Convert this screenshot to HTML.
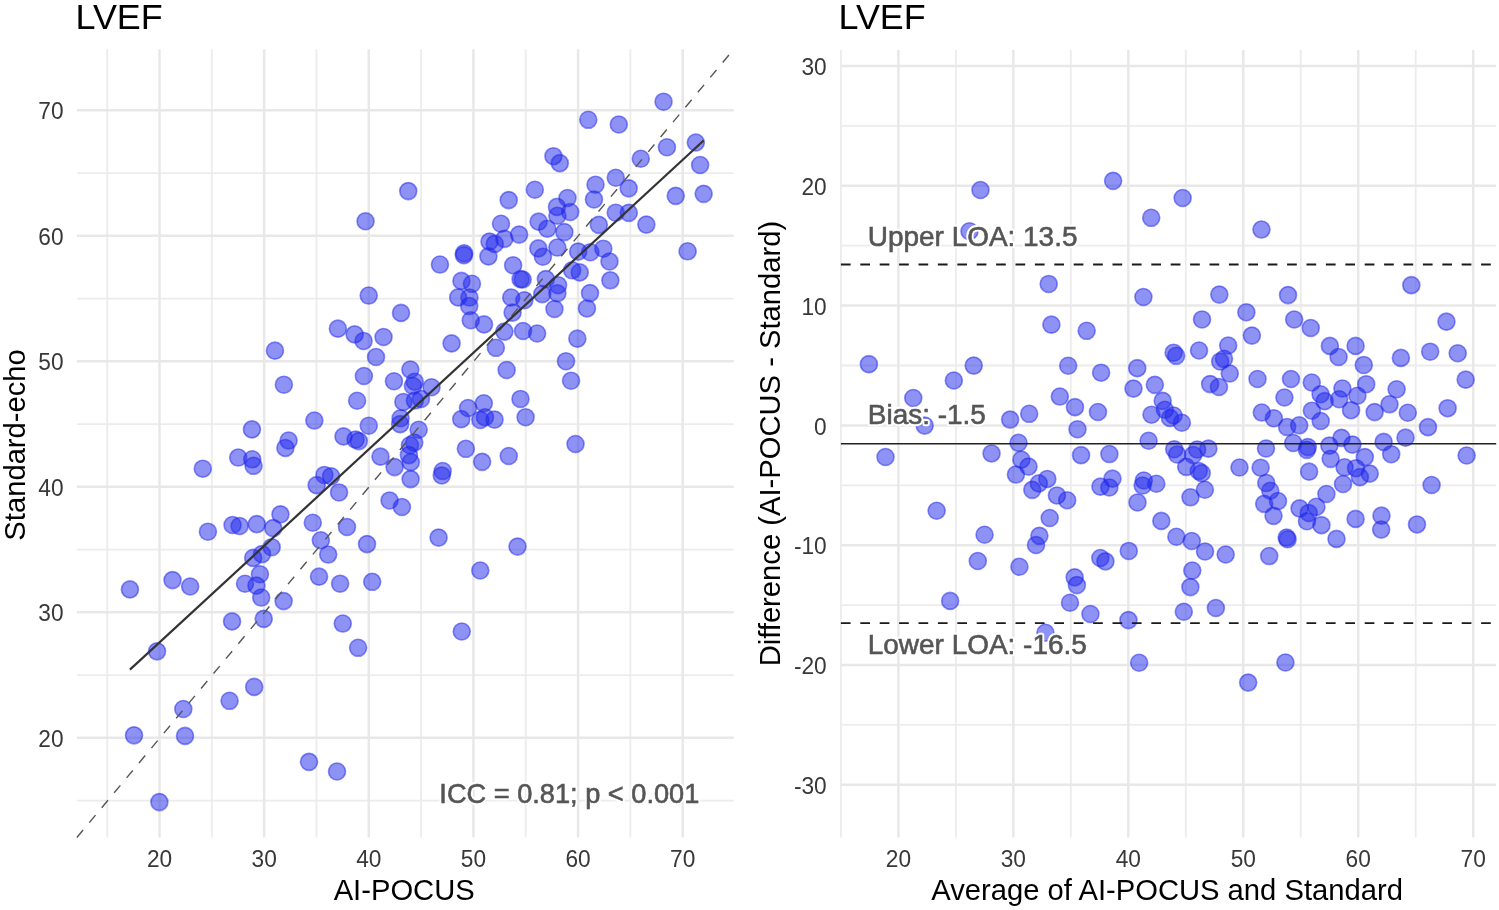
<!DOCTYPE html><html><head><meta charset="utf-8"><style>html,body{margin:0;padding:0;background:#fff;overflow:hidden}svg{display:block;will-change:transform;filter:blur(0.3px)}</style></head><body><svg width="1499" height="910" viewBox="0 0 1499 910" font-family="&quot;Liberation Sans&quot;, sans-serif">
<rect width="1499" height="910" fill="#fff"/>
<line x1="107.18" y1="49.3" x2="107.18" y2="837.5" stroke="#ECECEC" stroke-width="1.8"/>
<line x1="211.82" y1="49.3" x2="211.82" y2="837.5" stroke="#ECECEC" stroke-width="1.8"/>
<line x1="316.46" y1="49.3" x2="316.46" y2="837.5" stroke="#ECECEC" stroke-width="1.8"/>
<line x1="421.10" y1="49.3" x2="421.10" y2="837.5" stroke="#ECECEC" stroke-width="1.8"/>
<line x1="525.74" y1="49.3" x2="525.74" y2="837.5" stroke="#ECECEC" stroke-width="1.8"/>
<line x1="630.38" y1="49.3" x2="630.38" y2="837.5" stroke="#ECECEC" stroke-width="1.8"/>
<line x1="76.9" y1="800.55" x2="733.7" y2="800.55" stroke="#ECECEC" stroke-width="1.8"/>
<line x1="76.9" y1="675.05" x2="733.7" y2="675.05" stroke="#ECECEC" stroke-width="1.8"/>
<line x1="76.9" y1="549.55" x2="733.7" y2="549.55" stroke="#ECECEC" stroke-width="1.8"/>
<line x1="76.9" y1="424.05" x2="733.7" y2="424.05" stroke="#ECECEC" stroke-width="1.8"/>
<line x1="76.9" y1="298.55" x2="733.7" y2="298.55" stroke="#ECECEC" stroke-width="1.8"/>
<line x1="76.9" y1="173.05" x2="733.7" y2="173.05" stroke="#ECECEC" stroke-width="1.8"/>
<line x1="159.50" y1="49.3" x2="159.50" y2="837.5" stroke="#E8E8E8" stroke-width="2.5"/>
<line x1="264.14" y1="49.3" x2="264.14" y2="837.5" stroke="#E8E8E8" stroke-width="2.5"/>
<line x1="368.78" y1="49.3" x2="368.78" y2="837.5" stroke="#E8E8E8" stroke-width="2.5"/>
<line x1="473.42" y1="49.3" x2="473.42" y2="837.5" stroke="#E8E8E8" stroke-width="2.5"/>
<line x1="578.06" y1="49.3" x2="578.06" y2="837.5" stroke="#E8E8E8" stroke-width="2.5"/>
<line x1="682.70" y1="49.3" x2="682.70" y2="837.5" stroke="#E8E8E8" stroke-width="2.5"/>
<line x1="76.9" y1="737.80" x2="733.7" y2="737.80" stroke="#E8E8E8" stroke-width="2.5"/>
<line x1="76.9" y1="612.30" x2="733.7" y2="612.30" stroke="#E8E8E8" stroke-width="2.5"/>
<line x1="76.9" y1="486.80" x2="733.7" y2="486.80" stroke="#E8E8E8" stroke-width="2.5"/>
<line x1="76.9" y1="361.30" x2="733.7" y2="361.30" stroke="#E8E8E8" stroke-width="2.5"/>
<line x1="76.9" y1="235.80" x2="733.7" y2="235.80" stroke="#E8E8E8" stroke-width="2.5"/>
<line x1="76.9" y1="110.30" x2="733.7" y2="110.30" stroke="#E8E8E8" stroke-width="2.5"/>
<line x1="840.92" y1="50.1" x2="840.92" y2="837.5" stroke="#ECECEC" stroke-width="1.8"/>
<line x1="955.88" y1="50.1" x2="955.88" y2="837.5" stroke="#ECECEC" stroke-width="1.8"/>
<line x1="1070.84" y1="50.1" x2="1070.84" y2="837.5" stroke="#ECECEC" stroke-width="1.8"/>
<line x1="1185.80" y1="50.1" x2="1185.80" y2="837.5" stroke="#ECECEC" stroke-width="1.8"/>
<line x1="1300.76" y1="50.1" x2="1300.76" y2="837.5" stroke="#ECECEC" stroke-width="1.8"/>
<line x1="1415.72" y1="50.1" x2="1415.72" y2="837.5" stroke="#ECECEC" stroke-width="1.8"/>
<line x1="840.9" y1="724.90" x2="1496.2" y2="724.90" stroke="#ECECEC" stroke-width="1.8"/>
<line x1="840.9" y1="605.10" x2="1496.2" y2="605.10" stroke="#ECECEC" stroke-width="1.8"/>
<line x1="840.9" y1="485.30" x2="1496.2" y2="485.30" stroke="#ECECEC" stroke-width="1.8"/>
<line x1="840.9" y1="365.50" x2="1496.2" y2="365.50" stroke="#ECECEC" stroke-width="1.8"/>
<line x1="840.9" y1="245.70" x2="1496.2" y2="245.70" stroke="#ECECEC" stroke-width="1.8"/>
<line x1="840.9" y1="125.90" x2="1496.2" y2="125.90" stroke="#ECECEC" stroke-width="1.8"/>
<line x1="898.40" y1="50.1" x2="898.40" y2="837.5" stroke="#E8E8E8" stroke-width="2.5"/>
<line x1="1013.36" y1="50.1" x2="1013.36" y2="837.5" stroke="#E8E8E8" stroke-width="2.5"/>
<line x1="1128.32" y1="50.1" x2="1128.32" y2="837.5" stroke="#E8E8E8" stroke-width="2.5"/>
<line x1="1243.28" y1="50.1" x2="1243.28" y2="837.5" stroke="#E8E8E8" stroke-width="2.5"/>
<line x1="1358.24" y1="50.1" x2="1358.24" y2="837.5" stroke="#E8E8E8" stroke-width="2.5"/>
<line x1="1473.20" y1="50.1" x2="1473.20" y2="837.5" stroke="#E8E8E8" stroke-width="2.5"/>
<line x1="840.9" y1="784.80" x2="1496.2" y2="784.80" stroke="#E8E8E8" stroke-width="2.5"/>
<line x1="840.9" y1="665.00" x2="1496.2" y2="665.00" stroke="#E8E8E8" stroke-width="2.5"/>
<line x1="840.9" y1="545.20" x2="1496.2" y2="545.20" stroke="#E8E8E8" stroke-width="2.5"/>
<line x1="840.9" y1="425.40" x2="1496.2" y2="425.40" stroke="#E8E8E8" stroke-width="2.5"/>
<line x1="840.9" y1="305.60" x2="1496.2" y2="305.60" stroke="#E8E8E8" stroke-width="2.5"/>
<line x1="840.9" y1="185.80" x2="1496.2" y2="185.80" stroke="#E8E8E8" stroke-width="2.5"/>
<line x1="840.9" y1="66.00" x2="1496.2" y2="66.00" stroke="#E8E8E8" stroke-width="2.5"/>
<text transform="translate(159.50,867.30) scale(1,1.05)" text-anchor="middle" font-size="22.7" fill="#383838">20</text>
<text transform="translate(63.60,746.50) scale(1,1.05)" text-anchor="end" font-size="22.7" fill="#383838">20</text>
<text transform="translate(898.40,867.30) scale(1,1.05)" text-anchor="middle" font-size="22.7" fill="#383838">20</text>
<text transform="translate(264.14,867.30) scale(1,1.05)" text-anchor="middle" font-size="22.7" fill="#383838">30</text>
<text transform="translate(63.60,621.00) scale(1,1.05)" text-anchor="end" font-size="22.7" fill="#383838">30</text>
<text transform="translate(1013.36,867.30) scale(1,1.05)" text-anchor="middle" font-size="22.7" fill="#383838">30</text>
<text transform="translate(368.78,867.30) scale(1,1.05)" text-anchor="middle" font-size="22.7" fill="#383838">40</text>
<text transform="translate(63.60,495.50) scale(1,1.05)" text-anchor="end" font-size="22.7" fill="#383838">40</text>
<text transform="translate(1128.32,867.30) scale(1,1.05)" text-anchor="middle" font-size="22.7" fill="#383838">40</text>
<text transform="translate(473.42,867.30) scale(1,1.05)" text-anchor="middle" font-size="22.7" fill="#383838">50</text>
<text transform="translate(63.60,370.00) scale(1,1.05)" text-anchor="end" font-size="22.7" fill="#383838">50</text>
<text transform="translate(1243.28,867.30) scale(1,1.05)" text-anchor="middle" font-size="22.7" fill="#383838">50</text>
<text transform="translate(578.06,867.30) scale(1,1.05)" text-anchor="middle" font-size="22.7" fill="#383838">60</text>
<text transform="translate(63.60,244.50) scale(1,1.05)" text-anchor="end" font-size="22.7" fill="#383838">60</text>
<text transform="translate(1358.24,867.30) scale(1,1.05)" text-anchor="middle" font-size="22.7" fill="#383838">60</text>
<text transform="translate(682.70,867.30) scale(1,1.05)" text-anchor="middle" font-size="22.7" fill="#383838">70</text>
<text transform="translate(63.60,119.00) scale(1,1.05)" text-anchor="end" font-size="22.7" fill="#383838">70</text>
<text transform="translate(1473.20,867.30) scale(1,1.05)" text-anchor="middle" font-size="22.7" fill="#383838">70</text>
<text transform="translate(826.70,794.00) scale(1,1.05)" text-anchor="end" font-size="22.7" fill="#383838">-30</text>
<text transform="translate(826.70,674.20) scale(1,1.05)" text-anchor="end" font-size="22.7" fill="#383838">-20</text>
<text transform="translate(826.70,554.40) scale(1,1.05)" text-anchor="end" font-size="22.7" fill="#383838">-10</text>
<text transform="translate(826.70,434.60) scale(1,1.05)" text-anchor="end" font-size="22.7" fill="#383838">0</text>
<text transform="translate(826.70,314.80) scale(1,1.05)" text-anchor="end" font-size="22.7" fill="#383838">10</text>
<text transform="translate(826.70,195.00) scale(1,1.05)" text-anchor="end" font-size="22.7" fill="#383838">20</text>
<text transform="translate(826.70,75.20) scale(1,1.05)" text-anchor="end" font-size="22.7" fill="#383838">30</text>
<text x="75.6" y="29.3" font-size="35.9" fill="#000">LVEF</text>
<text x="838.6" y="29.3" font-size="35.9" fill="#000">LVEF</text>
<text x="404.2" y="899.7" text-anchor="middle" font-size="29.2" fill="#000">AI-POCUS</text>
<text x="1167.1" y="899.8" text-anchor="middle" font-size="29.2" fill="#000">Average of AI-POCUS and Standard</text>
<text transform="translate(25.4,444.9) rotate(-90)" text-anchor="middle" font-size="29.2" fill="#000">Standard-echo</text>
<text transform="translate(780.4,443.6) rotate(-90)" text-anchor="middle" font-size="29.2" fill="#000">Difference (AI-POCUS - Standard)</text>
<g fill="rgba(30,38,235,0.5)" stroke="rgba(30,38,235,0.5)" stroke-width="1.6">
<circle cx="663.56" cy="101.69" r="8.5"/>
<circle cx="588.28" cy="119.81" r="8.5"/>
<circle cx="618.79" cy="124.48" r="8.5"/>
<circle cx="695.83" cy="142.48" r="8.5"/>
<circle cx="666.94" cy="147.23" r="8.5"/>
<circle cx="640.78" cy="158.74" r="8.5"/>
<circle cx="553.43" cy="156.18" r="8.5"/>
<circle cx="559.8" cy="163.15" r="8.5"/>
<circle cx="700.11" cy="165.0" r="8.5"/>
<circle cx="615.76" cy="177.76" r="8.5"/>
<circle cx="595.51" cy="184.7" r="8.5"/>
<circle cx="628.7" cy="188.35" r="8.5"/>
<circle cx="534.83" cy="189.72" r="8.5"/>
<circle cx="675.73" cy="195.87" r="8.5"/>
<circle cx="703.66" cy="193.85" r="8.5"/>
<circle cx="508.71" cy="200.09" r="8.5"/>
<circle cx="593.97" cy="199.44" r="8.5"/>
<circle cx="567.47" cy="197.99" r="8.5"/>
<circle cx="556.95" cy="206.91" r="8.5"/>
<circle cx="570.21" cy="212.01" r="8.5"/>
<circle cx="557.38" cy="215.79" r="8.5"/>
<circle cx="615.74" cy="212.7" r="8.5"/>
<circle cx="628.79" cy="212.86" r="8.5"/>
<circle cx="501.0" cy="223.72" r="8.5"/>
<circle cx="538.62" cy="221.67" r="8.5"/>
<circle cx="598.81" cy="224.84" r="8.5"/>
<circle cx="646.36" cy="224.62" r="8.5"/>
<circle cx="547.32" cy="228.75" r="8.5"/>
<circle cx="564.38" cy="232.08" r="8.5"/>
<circle cx="519.1" cy="234.6" r="8.5"/>
<circle cx="504.41" cy="238.84" r="8.5"/>
<circle cx="489.5" cy="241.58" r="8.5"/>
<circle cx="494.76" cy="243.92" r="8.5"/>
<circle cx="538.33" cy="248.4" r="8.5"/>
<circle cx="557.36" cy="247.57" r="8.5"/>
<circle cx="464.07" cy="253.26" r="8.5"/>
<circle cx="488.41" cy="256.39" r="8.5"/>
<circle cx="578.17" cy="251.6" r="8.5"/>
<circle cx="590.3" cy="252.2" r="8.5"/>
<circle cx="603.31" cy="248.68" r="8.5"/>
<circle cx="687.62" cy="251.31" r="8.5"/>
<circle cx="542.93" cy="256.75" r="8.5"/>
<circle cx="408.26" cy="191.09" r="8.5"/>
<circle cx="365.54" cy="221.26" r="8.5"/>
<circle cx="463.92" cy="255.17" r="8.5"/>
<circle cx="439.96" cy="264.55" r="8.5"/>
<circle cx="609.48" cy="261.44" r="8.5"/>
<circle cx="513.13" cy="265.21" r="8.5"/>
<circle cx="461.44" cy="280.89" r="8.5"/>
<circle cx="471.95" cy="283.81" r="8.5"/>
<circle cx="458.18" cy="297.4" r="8.5"/>
<circle cx="469.44" cy="297.57" r="8.5"/>
<circle cx="469.2" cy="306.07" r="8.5"/>
<circle cx="470.74" cy="320.23" r="8.5"/>
<circle cx="484.01" cy="324.4" r="8.5"/>
<circle cx="520.58" cy="279.14" r="8.5"/>
<circle cx="522.66" cy="279.52" r="8.5"/>
<circle cx="511.24" cy="297.51" r="8.5"/>
<circle cx="524.36" cy="300.29" r="8.5"/>
<circle cx="512.59" cy="312.59" r="8.5"/>
<circle cx="545.85" cy="279.08" r="8.5"/>
<circle cx="558.07" cy="285.19" r="8.5"/>
<circle cx="542.28" cy="294.12" r="8.5"/>
<circle cx="557.4" cy="293.24" r="8.5"/>
<circle cx="554.46" cy="309.01" r="8.5"/>
<circle cx="572.15" cy="270.3" r="8.5"/>
<circle cx="579.72" cy="272.4" r="8.5"/>
<circle cx="610.36" cy="280.32" r="8.5"/>
<circle cx="590.01" cy="293.08" r="8.5"/>
<circle cx="586.95" cy="308.43" r="8.5"/>
<circle cx="504.39" cy="331.62" r="8.5"/>
<circle cx="523.05" cy="330.98" r="8.5"/>
<circle cx="537.12" cy="333.51" r="8.5"/>
<circle cx="451.59" cy="343.39" r="8.5"/>
<circle cx="495.9" cy="347.8" r="8.5"/>
<circle cx="577.35" cy="338.67" r="8.5"/>
<circle cx="566.01" cy="361.19" r="8.5"/>
<circle cx="506.63" cy="370.04" r="8.5"/>
<circle cx="571.07" cy="380.7" r="8.5"/>
<circle cx="368.71" cy="295.57" r="8.5"/>
<circle cx="401.03" cy="312.91" r="8.5"/>
<circle cx="337.88" cy="328.64" r="8.5"/>
<circle cx="354.64" cy="334.38" r="8.5"/>
<circle cx="363.59" cy="340.95" r="8.5"/>
<circle cx="383.55" cy="337.0" r="8.5"/>
<circle cx="274.95" cy="350.65" r="8.5"/>
<circle cx="376.03" cy="356.99" r="8.5"/>
<circle cx="363.87" cy="376.03" r="8.5"/>
<circle cx="393.96" cy="381.28" r="8.5"/>
<circle cx="410.35" cy="369.55" r="8.5"/>
<circle cx="412.96" cy="386.0" r="8.5"/>
<circle cx="414.72" cy="381.68" r="8.5"/>
<circle cx="431.5" cy="387.24" r="8.5"/>
<circle cx="283.86" cy="384.69" r="8.5"/>
<circle cx="357.12" cy="400.73" r="8.5"/>
<circle cx="403.33" cy="401.93" r="8.5"/>
<circle cx="414.89" cy="400.55" r="8.5"/>
<circle cx="420.94" cy="399.03" r="8.5"/>
<circle cx="400.56" cy="418.25" r="8.5"/>
<circle cx="400.17" cy="424.16" r="8.5"/>
<circle cx="368.75" cy="425.69" r="8.5"/>
<circle cx="418.65" cy="429.72" r="8.5"/>
<circle cx="314.36" cy="420.55" r="8.5"/>
<circle cx="520.47" cy="398.95" r="8.5"/>
<circle cx="468.04" cy="407.98" r="8.5"/>
<circle cx="483.79" cy="403.26" r="8.5"/>
<circle cx="461.26" cy="419.15" r="8.5"/>
<circle cx="480.33" cy="420.02" r="8.5"/>
<circle cx="484.97" cy="417.22" r="8.5"/>
<circle cx="494.55" cy="419.62" r="8.5"/>
<circle cx="525.61" cy="417.19" r="8.5"/>
<circle cx="575.51" cy="444.0" r="8.5"/>
<circle cx="465.87" cy="448.82" r="8.5"/>
<circle cx="482.14" cy="461.85" r="8.5"/>
<circle cx="508.74" cy="455.96" r="8.5"/>
<circle cx="442.69" cy="471.06" r="8.5"/>
<circle cx="441.76" cy="475.43" r="8.5"/>
<circle cx="438.59" cy="537.59" r="8.5"/>
<circle cx="517.55" cy="546.61" r="8.5"/>
<circle cx="251.94" cy="429.39" r="8.5"/>
<circle cx="288.58" cy="440.55" r="8.5"/>
<circle cx="285.4" cy="447.93" r="8.5"/>
<circle cx="238.22" cy="457.57" r="8.5"/>
<circle cx="252.23" cy="459.3" r="8.5"/>
<circle cx="253.55" cy="465.8" r="8.5"/>
<circle cx="202.79" cy="468.68" r="8.5"/>
<circle cx="343.5" cy="436.42" r="8.5"/>
<circle cx="355.56" cy="439.62" r="8.5"/>
<circle cx="358.8" cy="441.09" r="8.5"/>
<circle cx="380.52" cy="456.64" r="8.5"/>
<circle cx="414.28" cy="442.58" r="8.5"/>
<circle cx="409.95" cy="445.24" r="8.5"/>
<circle cx="408.87" cy="455.12" r="8.5"/>
<circle cx="410.78" cy="462.14" r="8.5"/>
<circle cx="410.62" cy="479.09" r="8.5"/>
<circle cx="394.57" cy="467.09" r="8.5"/>
<circle cx="324.39" cy="474.94" r="8.5"/>
<circle cx="331.09" cy="476.22" r="8.5"/>
<circle cx="316.67" cy="485.16" r="8.5"/>
<circle cx="339.05" cy="492.45" r="8.5"/>
<circle cx="389.55" cy="500.44" r="8.5"/>
<circle cx="401.91" cy="507.03" r="8.5"/>
<circle cx="280.47" cy="514.35" r="8.5"/>
<circle cx="232.54" cy="524.96" r="8.5"/>
<circle cx="239.6" cy="526.03" r="8.5"/>
<circle cx="256.8" cy="524.12" r="8.5"/>
<circle cx="273.2" cy="528.08" r="8.5"/>
<circle cx="207.92" cy="531.69" r="8.5"/>
<circle cx="312.76" cy="522.79" r="8.5"/>
<circle cx="347.0" cy="526.97" r="8.5"/>
<circle cx="320.83" cy="540.28" r="8.5"/>
<circle cx="367.03" cy="544.12" r="8.5"/>
<circle cx="328.2" cy="554.56" r="8.5"/>
<circle cx="271.67" cy="547.2" r="8.5"/>
<circle cx="261.99" cy="554.12" r="8.5"/>
<circle cx="253.21" cy="557.9" r="8.5"/>
<circle cx="259.92" cy="574.21" r="8.5"/>
<circle cx="245.02" cy="583.73" r="8.5"/>
<circle cx="256.46" cy="585.62" r="8.5"/>
<circle cx="261.22" cy="597.56" r="8.5"/>
<circle cx="283.62" cy="601.08" r="8.5"/>
<circle cx="172.53" cy="580.1" r="8.5"/>
<circle cx="190.17" cy="586.49" r="8.5"/>
<circle cx="319.05" cy="576.66" r="8.5"/>
<circle cx="340.12" cy="583.7" r="8.5"/>
<circle cx="372.19" cy="581.82" r="8.5"/>
<circle cx="129.94" cy="589.39" r="8.5"/>
<circle cx="232.06" cy="621.41" r="8.5"/>
<circle cx="263.74" cy="618.87" r="8.5"/>
<circle cx="342.76" cy="623.55" r="8.5"/>
<circle cx="358.09" cy="647.81" r="8.5"/>
<circle cx="157.05" cy="651.36" r="8.5"/>
<circle cx="254.17" cy="686.89" r="8.5"/>
<circle cx="229.57" cy="700.81" r="8.5"/>
<circle cx="183.32" cy="709.04" r="8.5"/>
<circle cx="134.0" cy="735.33" r="8.5"/>
<circle cx="185.03" cy="735.92" r="8.5"/>
<circle cx="309.01" cy="761.87" r="8.5"/>
<circle cx="337.03" cy="771.51" r="8.5"/>
<circle cx="159.38" cy="802.11" r="8.5"/>
<circle cx="480.28" cy="570.54" r="8.5"/>
<circle cx="461.75" cy="631.5" r="8.5"/>
</g>
<g fill="rgba(30,38,235,0.5)" stroke="rgba(30,38,235,0.5)" stroke-width="1.6">
<circle cx="1466.63" cy="455.53" r="8.5"/>
<circle cx="1416.98" cy="524.43" r="8.5"/>
<circle cx="1431.6" cy="485.04" r="8.5"/>
<circle cx="1465.68" cy="379.64" r="8.5"/>
<circle cx="1447.63" cy="408.18" r="8.5"/>
<circle cx="1427.99" cy="427.15" r="8.5"/>
<circle cx="1381.17" cy="529.61" r="8.5"/>
<circle cx="1381.48" cy="515.66" r="8.5"/>
<circle cx="1457.71" cy="353.25" r="8.5"/>
<circle cx="1405.53" cy="437.65" r="8.5"/>
<circle cx="1391.23" cy="454.2" r="8.5"/>
<circle cx="1407.79" cy="412.72" r="8.5"/>
<circle cx="1355.6" cy="518.88" r="8.5"/>
<circle cx="1430.18" cy="351.7" r="8.5"/>
<circle cx="1446.44" cy="321.65" r="8.5"/>
<circle cx="1336.5" cy="538.89" r="8.5"/>
<circle cx="1383.64" cy="441.89" r="8.5"/>
<circle cx="1369.74" cy="473.61" r="8.5"/>
<circle cx="1359.88" cy="477.14" r="8.5"/>
<circle cx="1364.82" cy="457.1" r="8.5"/>
<circle cx="1356.04" cy="468.18" r="8.5"/>
<circle cx="1389.52" cy="404.31" r="8.5"/>
<circle cx="1396.61" cy="389.22" r="8.5"/>
<circle cx="1321.45" cy="525.15" r="8.5"/>
<circle cx="1343.05" cy="484.04" r="8.5"/>
<circle cx="1374.66" cy="412.11" r="8.5"/>
<circle cx="1400.88" cy="357.88" r="8.5"/>
<circle cx="1344.59" cy="467.32" r="8.5"/>
<circle cx="1352.43" cy="444.62" r="8.5"/>
<circle cx="1326.4" cy="494.04" r="8.5"/>
<circle cx="1316.39" cy="506.81" r="8.5"/>
<circle cx="1306.94" cy="521.27" r="8.5"/>
<circle cx="1308.76" cy="513.02" r="8.5"/>
<circle cx="1330.64" cy="458.86" r="8.5"/>
<circle cx="1341.48" cy="437.87" r="8.5"/>
<circle cx="1287.63" cy="539.24" r="8.5"/>
<circle cx="1299.56" cy="508.38" r="8.5"/>
<circle cx="1351.06" cy="410.18" r="8.5"/>
<circle cx="1357.45" cy="395.73" r="8.5"/>
<circle cx="1366.21" cy="384.2" r="8.5"/>
<circle cx="1411.32" cy="285.17" r="8.5"/>
<circle cx="1329.34" cy="445.62" r="8.5"/>
<circle cx="1285.44" cy="662.48" r="8.5"/>
<circle cx="1248.16" cy="682.59" r="8.5"/>
<circle cx="1286.67" cy="537.58" r="8.5"/>
<circle cx="1269.21" cy="556.06" r="8.5"/>
<circle cx="1363.75" cy="364.95" r="8.5"/>
<circle cx="1309.11" cy="471.67" r="8.5"/>
<circle cx="1273.53" cy="515.87" r="8.5"/>
<circle cx="1277.97" cy="501.05" r="8.5"/>
<circle cx="1264.18" cy="503.85" r="8.5"/>
<circle cx="1270.28" cy="490.78" r="8.5"/>
<circle cx="1266.26" cy="482.95" r="8.5"/>
<circle cx="1260.62" cy="467.68" r="8.5"/>
<circle cx="1266.0" cy="448.5" r="8.5"/>
<circle cx="1306.82" cy="449.83" r="8.5"/>
<circle cx="1307.78" cy="447.1" r="8.5"/>
<circle cx="1293.27" cy="442.99" r="8.5"/>
<circle cx="1299.2" cy="425.32" r="8.5"/>
<circle cx="1287.11" cy="427.06" r="8.5"/>
<circle cx="1320.72" cy="420.97" r="8.5"/>
<circle cx="1324.64" cy="401.13" r="8.5"/>
<circle cx="1311.88" cy="410.69" r="8.5"/>
<circle cx="1320.58" cy="394.22" r="8.5"/>
<circle cx="1311.75" cy="382.53" r="8.5"/>
<circle cx="1339.19" cy="399.23" r="8.5"/>
<circle cx="1342.39" cy="388.56" r="8.5"/>
<circle cx="1355.59" cy="345.92" r="8.5"/>
<circle cx="1338.57" cy="357.04" r="8.5"/>
<circle cx="1329.86" cy="345.89" r="8.5"/>
<circle cx="1273.89" cy="418.28" r="8.5"/>
<circle cx="1284.43" cy="397.51" r="8.5"/>
<circle cx="1291.0" cy="379.0" r="8.5"/>
<circle cx="1239.49" cy="467.49" r="8.5"/>
<circle cx="1261.81" cy="412.56" r="8.5"/>
<circle cx="1310.73" cy="328.02" r="8.5"/>
<circle cx="1294.19" cy="319.5" r="8.5"/>
<circle cx="1257.52" cy="379.03" r="8.5"/>
<circle cx="1288.04" cy="295.08" r="8.5"/>
<circle cx="1215.87" cy="608.03" r="8.5"/>
<circle cx="1225.68" cy="554.47" r="8.5"/>
<circle cx="1183.79" cy="611.75" r="8.5"/>
<circle cx="1190.36" cy="587.09" r="8.5"/>
<circle cx="1192.27" cy="570.56" r="8.5"/>
<circle cx="1205.04" cy="551.48" r="8.5"/>
<circle cx="1139.14" cy="662.79" r="8.5"/>
<circle cx="1191.76" cy="541.01" r="8.5"/>
<circle cx="1176.35" cy="536.76" r="8.5"/>
<circle cx="1190.48" cy="497.3" r="8.5"/>
<circle cx="1204.85" cy="489.73" r="8.5"/>
<circle cx="1198.75" cy="471.04" r="8.5"/>
<circle cx="1201.7" cy="473.15" r="8.5"/>
<circle cx="1208.37" cy="448.63" r="8.5"/>
<circle cx="1128.44" cy="620.09" r="8.5"/>
<circle cx="1161.33" cy="520.92" r="8.5"/>
<circle cx="1186.17" cy="466.87" r="8.5"/>
<circle cx="1193.15" cy="454.94" r="8.5"/>
<circle cx="1197.17" cy="449.47" r="8.5"/>
<circle cx="1177.17" cy="454.44" r="8.5"/>
<circle cx="1174.25" cy="449.26" r="8.5"/>
<circle cx="1156.29" cy="483.77" r="8.5"/>
<circle cx="1181.85" cy="422.79" r="8.5"/>
<circle cx="1128.77" cy="550.95" r="8.5"/>
<circle cx="1251.88" cy="335.6" r="8.5"/>
<circle cx="1218.94" cy="387.0" r="8.5"/>
<circle cx="1229.76" cy="373.47" r="8.5"/>
<circle cx="1210.11" cy="384.1" r="8.5"/>
<circle cx="1220.18" cy="361.44" r="8.5"/>
<circle cx="1224.01" cy="358.8" r="8.5"/>
<circle cx="1228.18" cy="345.54" r="8.5"/>
<circle cx="1246.35" cy="312.29" r="8.5"/>
<circle cx="1261.48" cy="229.57" r="8.5"/>
<circle cx="1199.05" cy="350.5" r="8.5"/>
<circle cx="1202.02" cy="319.44" r="8.5"/>
<circle cx="1219.32" cy="294.6" r="8.5"/>
<circle cx="1176.13" cy="355.81" r="8.5"/>
<circle cx="1173.62" cy="352.7" r="8.5"/>
<circle cx="1143.4" cy="296.99" r="8.5"/>
<circle cx="1182.65" cy="197.98" r="8.5"/>
<circle cx="1090.44" cy="613.97" r="8.5"/>
<circle cx="1105.44" cy="561.37" r="8.5"/>
<circle cx="1100.32" cy="557.96" r="8.5"/>
<circle cx="1069.99" cy="602.78" r="8.5"/>
<circle cx="1076.89" cy="585.08" r="8.5"/>
<circle cx="1074.64" cy="577.36" r="8.5"/>
<circle cx="1045.44" cy="632.74" r="8.5"/>
<circle cx="1137.51" cy="502.44" r="8.5"/>
<circle cx="1142.67" cy="485.57" r="8.5"/>
<circle cx="1143.78" cy="480.46" r="8.5"/>
<circle cx="1148.58" cy="440.75" r="8.5"/>
<circle cx="1173.57" cy="415.52" r="8.5"/>
<circle cx="1169.97" cy="417.93" r="8.5"/>
<circle cx="1164.85" cy="409.75" r="8.5"/>
<circle cx="1162.68" cy="400.86" r="8.5"/>
<circle cx="1154.84" cy="384.86" r="8.5"/>
<circle cx="1151.52" cy="414.68" r="8.5"/>
<circle cx="1109.37" cy="487.54" r="8.5"/>
<circle cx="1112.46" cy="478.65" r="8.5"/>
<circle cx="1100.44" cy="486.63" r="8.5"/>
<circle cx="1109.4" cy="454.05" r="8.5"/>
<circle cx="1133.48" cy="388.6" r="8.5"/>
<circle cx="1137.25" cy="368.15" r="8.5"/>
<circle cx="1067.19" cy="500.21" r="8.5"/>
<circle cx="1036.01" cy="544.95" r="8.5"/>
<circle cx="1039.39" cy="535.84" r="8.5"/>
<circle cx="1049.71" cy="517.98" r="8.5"/>
<circle cx="1056.91" cy="495.43" r="8.5"/>
<circle cx="1019.39" cy="566.72" r="8.5"/>
<circle cx="1081.06" cy="455.17" r="8.5"/>
<circle cx="1097.96" cy="411.99" r="8.5"/>
<circle cx="1077.49" cy="429.25" r="8.5"/>
<circle cx="1101.11" cy="372.68" r="8.5"/>
<circle cx="1074.99" cy="407.17" r="8.5"/>
<circle cx="1047.31" cy="478.93" r="8.5"/>
<circle cx="1038.83" cy="483.4" r="8.5"/>
<circle cx="1032.27" cy="489.84" r="8.5"/>
<circle cx="1028.49" cy="466.59" r="8.5"/>
<circle cx="1015.94" cy="474.56" r="8.5"/>
<circle cx="1021.36" cy="459.66" r="8.5"/>
<circle cx="1018.51" cy="442.81" r="8.5"/>
<circle cx="1029.2" cy="413.8" r="8.5"/>
<circle cx="977.78" cy="561.02" r="8.5"/>
<circle cx="984.55" cy="534.72" r="8.5"/>
<circle cx="1059.84" cy="396.56" r="8.5"/>
<circle cx="1068.2" cy="365.71" r="8.5"/>
<circle cx="1086.67" cy="330.8" r="8.5"/>
<circle cx="950.13" cy="600.92" r="8.5"/>
<circle cx="991.56" cy="453.43" r="8.5"/>
<circle cx="1010.13" cy="419.59" r="8.5"/>
<circle cx="1051.4" cy="324.65" r="8.5"/>
<circle cx="1048.71" cy="283.94" r="8.5"/>
<circle cx="936.65" cy="510.72" r="8.5"/>
<circle cx="973.72" cy="365.62" r="8.5"/>
<circle cx="953.83" cy="380.49" r="8.5"/>
<circle cx="924.65" cy="425.58" r="8.5"/>
<circle cx="885.52" cy="456.96" r="8.5"/>
<circle cx="913.28" cy="397.97" r="8.5"/>
<circle cx="969.5" cy="231.25" r="8.5"/>
<circle cx="980.48" cy="189.97" r="8.5"/>
<circle cx="868.88" cy="364.15" r="8.5"/>
<circle cx="1151.22" cy="217.81" r="8.5"/>
<circle cx="1113.12" cy="180.84" r="8.5"/>
</g>
<line x1="76.9" y1="837.5" x2="733.7" y2="49.3" stroke="#555" stroke-width="1.4" stroke-dasharray="9.7 9.7"/>
<line x1="129.94" y1="669.67" x2="703.66" y2="140.48" stroke="#333" stroke-width="2.2"/>
<line x1="840.9" y1="264.50" x2="1496.2" y2="264.50" stroke="#1a1a1a" stroke-width="1.8" stroke-dasharray="9.7 9.7"/>
<line x1="840.9" y1="623.20" x2="1496.2" y2="623.20" stroke="#1a1a1a" stroke-width="1.8" stroke-dasharray="9.7 9.7"/>
<line x1="840.9" y1="443.7" x2="1496.2" y2="443.7" stroke="#222" stroke-width="1.5"/>
<text x="699.3" y="802.7" text-anchor="end" font-size="27.2" fill="#fff" stroke="#fff" stroke-width="4.5" stroke-linejoin="round">ICC = 0.81; p &lt; 0.001</text>
<text x="699.3" y="802.7" text-anchor="end" font-size="27.2" fill="#555" stroke="#555" stroke-width="0.6">ICC = 0.81; p &lt; 0.001</text>
<text x="867.8" y="245.5" text-anchor="start" font-size="27.95" fill="#fff" stroke="#fff" stroke-width="4.5" stroke-linejoin="round">Upper LOA: 13.5</text>
<text x="867.8" y="245.5" text-anchor="start" font-size="27.95" fill="#555" stroke="#555" stroke-width="0.6">Upper LOA: 13.5</text>
<text x="867.8" y="424.4" text-anchor="start" font-size="27.95" fill="#fff" stroke="#fff" stroke-width="4.5" stroke-linejoin="round">Bias: -1.5</text>
<text x="867.8" y="424.4" text-anchor="start" font-size="27.95" fill="#555" stroke="#555" stroke-width="0.6">Bias: -1.5</text>
<text x="867.8" y="653.6" text-anchor="start" font-size="27.95" fill="#fff" stroke="#fff" stroke-width="4.5" stroke-linejoin="round">Lower LOA: -16.5</text>
<text x="867.8" y="653.6" text-anchor="start" font-size="27.95" fill="#555" stroke="#555" stroke-width="0.6">Lower LOA: -16.5</text>
</svg></body></html>
